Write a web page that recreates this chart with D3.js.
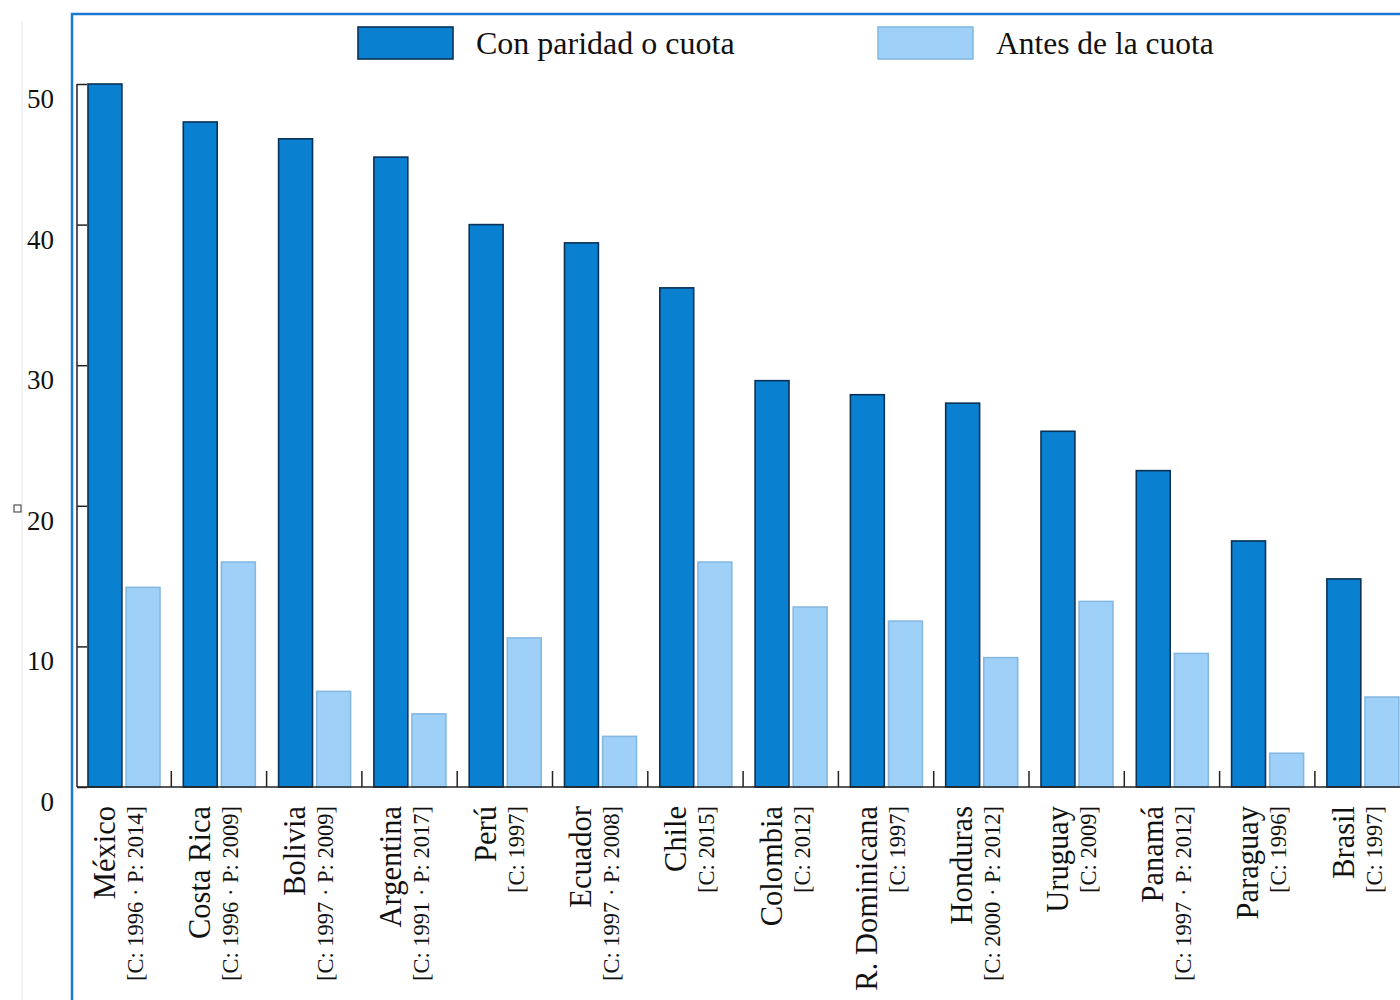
<!DOCTYPE html>
<html>
<head>
<meta charset="utf-8">
<script src="https://cdn.jsdelivr.net/npm/d3@7"></script>
<style>
  html, body { margin: 0; padding: 0; background: #fff; }
  svg { display: block; font-family: "Liberation Serif", "Times New Roman", serif; }
</style>
</head>
<body>
<svg id="chart" width="1400" height="1000"></svg>
<script>
const countries = ["México", "Costa Rica", "Bolivia", "Argentina", "Perú", "Ecuador", "Chile",
  "Colombia", "R. Dominicana", "Honduras", "Uruguay", "Panamá", "Paraguay", "Brasil"];
const subtitles = ["[C: 1996 · P: 2014]", "[C: 1996 · P: 2009]", "[C: 1997 · P: 2009]", "[C: 1991 · P: 2017]",
  "[C: 1997]", "[C: 1997 · P: 2008]", "[C: 2015]", "[C: 2012]", "[C: 1997]", "[C: 2000 · P: 2012]",
  "[C: 2009]", "[C: 1997 · P: 2012]", "[C: 1996]", "[C: 1997]"];
const seriesNames = ["Con paridad o cuota", "Antes de la cuota"];
const conParidad = [50.0, 47.3, 46.1, 44.8, 40.0, 38.7, 35.5, 28.9, 27.9, 27.3, 25.3, 22.5, 17.5, 14.8];
const antesCuota = [14.2, 16.0, 6.8, 5.2, 10.6, 3.6, 16.0, 12.8, 11.8, 9.2, 13.2, 9.5, 2.4, 6.4];
const yTicks = [0, 10, 20, 30, 40, 50];

const svg = d3.select("#chart");
const baseY = 787, topY = 84;
const step = 95.3, left = 76;

const y = d3.scaleLinear().domain([0, 50]).range([baseY, topY]);
const x0 = d3.scaleBand().domain(countries).range([left, left + step * countries.length]).padding(0);
const x1 = d3.scaleBand().domain(seriesNames).range([12, 84]).paddingInner(0.11);
const fills = { [seriesNames[0]]: "#0a80d0", [seriesNames[1]]: "#9ed0f8" };
const strokes = { [seriesNames[0]]: "#0a3156", [seriesNames[1]]: "#86b9e2" };

// faint guide line at far left
svg.append("line").attr("x1", 22).attr("x2", 22).attr("y1", 22).attr("y2", 1000)
  .attr("stroke", "#efefef").attr("stroke-width", 1.5);
// small square artifact
svg.append("rect").attr("x", 14).attr("y", 505).attr("width", 7).attr("height", 7)
  .attr("fill", "none").attr("stroke", "#333").attr("stroke-width", 1);

// blue frame
svg.append("rect").attr("x", 72).attr("y", 14).attr("width", 1400).attr("height", 1100)
  .attr("fill", "none").attr("stroke", "#1a78d2").attr("stroke-width", 2.5);

// y tick labels (outside the frame, offset as in the reference)
svg.append("g").selectAll("text").data(yTicks).join("text")
  .attr("x", 54).attr("y", d => y(d) + 24)
  .attr("text-anchor", "end").attr("font-size", 27).attr("fill", "#111")
  .text(d => d);

// bars
const data = countries.map((c, i) => ({ c, vals: [conParidad[i], antesCuota[i]] }));
const groups = svg.append("g").selectAll("g").data(data).join("g")
  .attr("transform", d => `translate(${x0(d.c)},0)`);
groups.selectAll("rect").data(d => seriesNames.map((s, k) => ({ s, v: d.vals[k] }))).join("rect")
  .attr("x", d => x1(d.s)).attr("width", x1.bandwidth())
  .attr("y", d => y(d.v)).attr("height", d => baseY - y(d.v))
  .attr("fill", d => fills[d.s]).attr("stroke", d => strokes[d.s]).attr("stroke-width", 1.6);

// y axis line with inward ticks
const yAxis = d3.axisRight(y).tickValues(yTicks).tickSize(10).tickFormat("");
const ya = svg.append("g").attr("transform", "translate(77,0)").call(yAxis);
ya.select(".domain").attr("stroke", "#222").attr("stroke-width", 1.5).attr("d", `M0,${topY}V${baseY}`);
ya.selectAll(".tick line").attr("stroke", "#222").attr("stroke-width", 1.5);

// x baseline
svg.append("line").attr("x1", 77).attr("x2", 1400).attr("y1", baseY).attr("y2", baseY)
  .attr("stroke", "#222").attr("stroke-width", 1.5);
// group separator ticks
svg.append("g").selectAll("line").data(countries.slice(1)).join("line")
  .attr("x1", d => x0(d)).attr("x2", d => x0(d))
  .attr("y1", baseY).attr("y2", baseY - 16)
  .attr("stroke", "#222").attr("stroke-width", 1.5);

// x labels
const lab = svg.append("g").selectAll("g").data(countries).join("g")
  .attr("transform", d => `translate(${x0(d) + x0.bandwidth() / 2},806) rotate(-90)`);
lab.append("text").attr("text-anchor", "end").attr("y", -9)
  .attr("font-size", 30.5).attr("fill", "#111").text(d => d);
lab.append("text").attr("text-anchor", "end").attr("y", 19)
  .attr("font-size", 22.5).attr("fill", "#111").text((d, i) => subtitles[i]);

// legend
const legendItems = [
  { s: seriesNames[0], rx: 358, tx: 476, fs: 32 },
  { s: seriesNames[1], rx: 878, tx: 996, fs: 31.5 }
];
const lg = svg.append("g").selectAll("g").data(legendItems).join("g");
lg.append("rect").attr("x", d => d.rx).attr("y", 27).attr("width", 95).attr("height", 32)
  .attr("fill", d => fills[d.s]).attr("stroke", d => strokes[d.s]).attr("stroke-width", 1.6);
lg.append("text").attr("x", d => d.tx).attr("y", 54).attr("font-size", d => d.fs).attr("fill", "#111")
  .text(d => d.s);
</script>
</body>
</html>
